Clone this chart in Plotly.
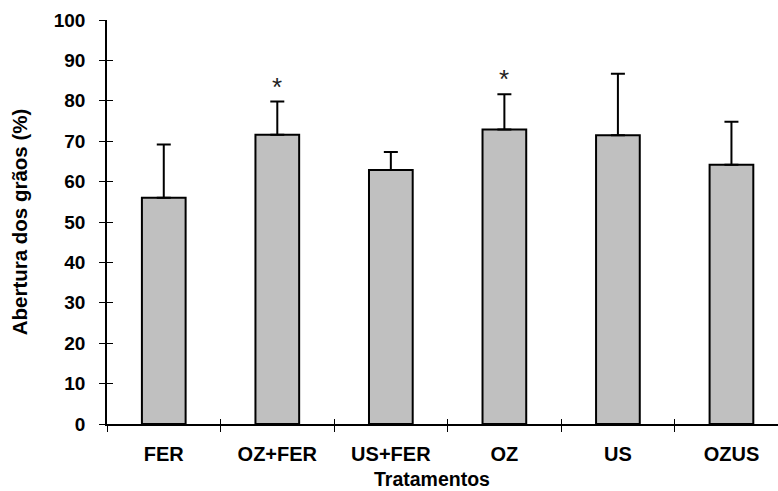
import plotly.graph_objects as go

categories = ["FER", "OZ+FER", "US+FER", "OZ", "US", "OZUS"]
means = [56.0, 71.6, 62.9, 72.9, 71.5, 64.2]
err_up = [13.2, 8.2, 4.4, 8.7, 15.2, 10.6]
star_cats = ["OZ+FER", "OZ"]
star_y = [84.5, 86.4]
y_ticks = [0, 10, 20, 30, 40, 50, 60, 70, 80, 90, 100]
boundaries = [-0.5, 0.5, 1.5, 2.5, 3.5, 4.5, 5.5]

FONT = "Liberation Sans, Arial, sans-serif"

fig = go.Figure()
fig.add_trace(go.Bar(
    x=categories, y=means, width=0.385,
    marker=dict(color="#c0c0c0", line=dict(color="black", width=2)),
    error_y=dict(type="data", array=err_up, arrayminus=[0]*len(err_up), symmetric=False,
                 color="black", thickness=2, width=7),
    showlegend=False, hoverinfo="skip",
))
fig.add_trace(go.Scatter(x=[], y=[], xaxis="x2", yaxis="y2", showlegend=False, hoverinfo="skip"))

for c, yv in zip(star_cats, star_y):
    fig.add_annotation(x=c, y=yv, xref="x", yref="y", text="*", showarrow=False, yshift=-4,
                       font=dict(family=FONT, size=26, color="#222"), yanchor="middle")

fig.add_annotation(x=0.4844, y=-(479 - 424) / (491 - 20 - 67), xref="paper", yref="paper",
                   text="Tratamentos", showarrow=False,
                   font=dict(family=FONT, size=19.5, color="black", weight="bold"),
                   yanchor="middle")

rng_x = [-0.5, 5.41]
fig.update_layout(
    width=778, height=491,
    margin=dict(l=107, r=0, t=20, b=67, autoexpand=False),
    plot_bgcolor="white", paper_bgcolor="white",
    font=dict(family=FONT, color="black"),
    xaxis=dict(type="category", range=rng_x, tickson="boundaries", ticks="outside",
               ticklen=6, tickwidth=1.3, tickcolor="black", showline=True, linecolor="black",
               linewidth=1.5, showgrid=False, zeroline=False,
               tickfont=dict(family=FONT, size=20, color="black", weight="bold"),
               ticklabelstandoff=11),
    yaxis=dict(range=[0, 100], tickvals=y_ticks, ticks="outside", ticklen=6, tickwidth=1.3,
               tickcolor="black", showline=True, linecolor="black", linewidth=1.5,
               showgrid=False, zeroline=False,
               tickfont=dict(family=FONT, size=19, color="black", weight="bold"),
               ticklabelstandoff=10,
               title=dict(text="Abertura dos grãos (%)",
                          font=dict(family=FONT, size=20.5, color="black", weight="bold"),
                          standoff=21)),
    xaxis2=dict(overlaying="x", anchor="y2", range=rng_x, tickvals=boundaries, ticks="inside",
                ticklen=5, tickwidth=1.3, tickcolor="black", showticklabels=False,
                showgrid=False, zeroline=False, showline=False),
    yaxis2=dict(overlaying="y", anchor="x2", range=[0, 100], tickvals=y_ticks, ticks="inside",
                ticklen=6, tickwidth=1.3, tickcolor="black", showticklabels=False,
                showgrid=False, zeroline=False, showline=False),
)

fig.write_html("out.html", config={"displayModeBar": False},
               post_script="document.body.style.margin='0';")
